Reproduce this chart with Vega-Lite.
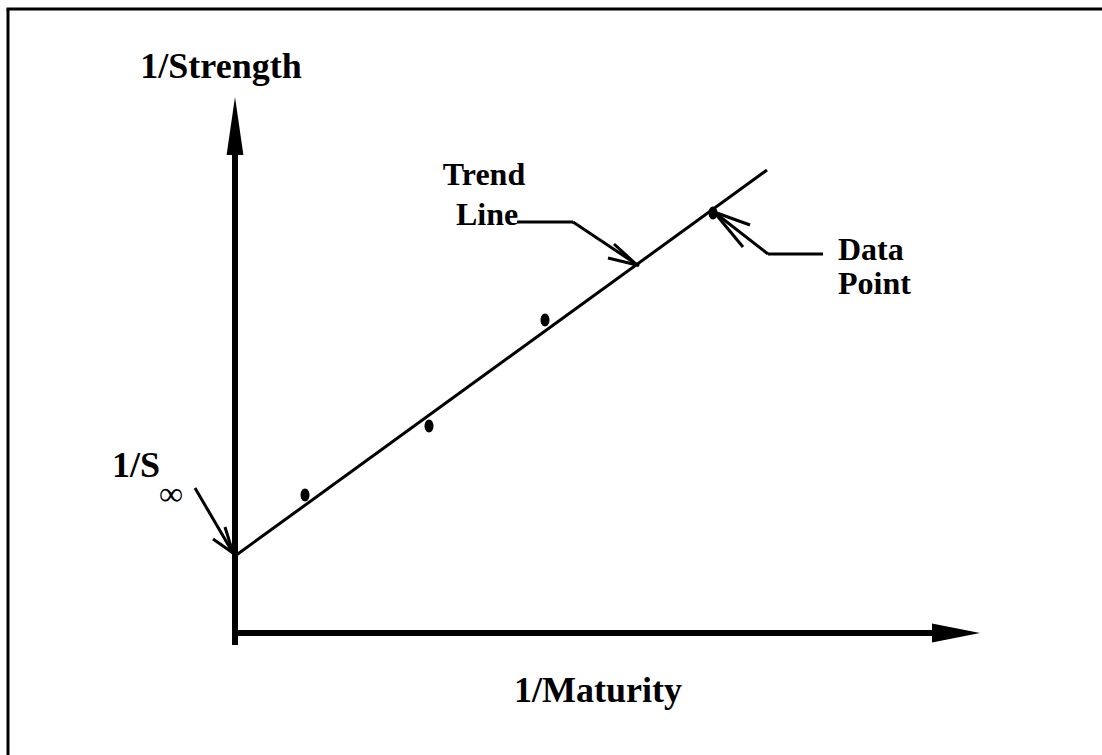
{
  "$schema": "https://vega.github.io/schema/vega-lite/v6.json",
  "width": 1102,
  "height": 755,
  "padding": 0,
  "autosize": "none",
  "background": "white",
  "config": {"view": {"stroke": null}},
  "datasets": {
    "segs": [
      {"x": 0, "y": -0.12, "x2": 0, "y2": 4.85, "g": "axis"},
      {"x": -0.03, "y": 0, "x2": 7.0, "y2": 0, "g": "axis"},
      {"x": -2.27, "y": 6.24, "x2": -2.27, "y2": -1.3, "g": "thin"},
      {"x": -2.285, "y": 6.24, "x2": 8.8, "y2": 6.24, "g": "thin"},
      {"x": 0, "y": 0.77, "x2": 5.32, "y2": 4.63, "g": "thin"},
      {"x": -0.40, "y": 1.45, "x2": -0.02, "y2": 0.80, "g": "thin"},
      {"x": -0.02, "y": 0.80, "x2": -0.22, "y2": 0.94, "g": "thin"},
      {"x": -0.02, "y": 0.80, "x2": -0.10, "y2": 1.06, "g": "thin"},
      {"x": 2.82, "y": 4.11, "x2": 3.38, "y2": 4.11, "g": "thin"},
      {"x": 3.38, "y": 4.11, "x2": 4.04, "y2": 3.67, "g": "thin"},
      {"x": 4.02, "y": 3.68, "x2": 3.79, "y2": 3.89, "g": "thin"},
      {"x": 4.02, "y": 3.68, "x2": 3.73, "y2": 3.75, "g": "thin"},
      {"x": 4.79, "y": 4.21, "x2": 5.33, "y2": 3.79, "g": "thin"},
      {"x": 5.33, "y": 3.79, "x2": 5.88, "y2": 3.79, "g": "thin"},
      {"x": 4.79, "y": 4.21, "x2": 5.15, "y2": 4.08, "g": "thin"},
      {"x": 4.79, "y": 4.21, "x2": 5.08, "y2": 3.86, "g": "thin"}
    ],
    "points": [
      {"m": 0.70, "s": 1.38},
      {"m": 1.94, "s": 2.07},
      {"m": 3.10, "s": 3.13},
      {"m": 4.78, "s": 4.20}
    ],
    "heads": [
      {"x": 0, "y": 5.36, "dir": "up"},
      {"x": 7.45, "y": 0, "dir": "right"}
    ],
    "labels": [
      {"x": -0.14, "y": 5.55, "t": "1/Strength", "k": "title"},
      {"x": 3.63, "y": -0.69, "t": "1/Maturity", "k": "title"},
      {"x": -1.23, "y": 1.56, "t": "1/S", "k": "titleleft"},
      {"x": 2.49, "y": 4.48, "t": "Trend", "k": "note"},
      {"x": 2.52, "y": 4.08, "t": "Line", "k": "note"},
      {"x": 6.03, "y": 3.73, "t": "Data", "k": "noteleft"},
      {"x": 6.03, "y": 3.39, "t": "Point", "k": "noteleft"},
      {"x": -0.64, "y": 1.38, "t": "∞", "k": "inf"}
    ]
  },
  "layer": [
    {
      "data": {"name": "segs"},
      "transform": [{"filter": "datum.g === 'thin'"}],
      "mark": {"type": "rule", "color": "black", "strokeWidth": 3},
      "encoding": {
        "x": {"field": "x", "type": "quantitative", "scale": {"domain": [-2.35, 8.67], "nice": false, "zero": false}, "axis": null},
        "y": {"field": "y", "type": "quantitative", "scale": {"domain": [-1.22, 6.33], "nice": false, "zero": false}, "axis": null},
        "x2": {"field": "x2"},
        "y2": {"field": "y2"}
      }
    },
    {
      "data": {"name": "segs"},
      "transform": [{"filter": "datum.g === 'axis'"}],
      "mark": {"type": "rule", "color": "black", "strokeWidth": 6},
      "encoding": {
        "x": {"field": "x", "type": "quantitative"},
        "y": {"field": "y", "type": "quantitative"},
        "x2": {"field": "x2"},
        "y2": {"field": "y2"}
      }
    },
    {
      "data": {"name": "heads"},
      "transform": [{"filter": "datum.dir === 'up'"}],
      "mark": {"type": "point", "filled": true, "color": "black", "opacity": 1, "shape": "M0,0 L0.29,2 L-0.29,2 Z", "size": 3364},
      "encoding": {
        "x": {"field": "x", "type": "quantitative"},
        "y": {"field": "y", "type": "quantitative"}
      }
    },
    {
      "data": {"name": "heads"},
      "transform": [{"filter": "datum.dir === 'right'"}],
      "mark": {"type": "point", "filled": true, "color": "black", "opacity": 1, "shape": "M0,0 L-2,-0.4 L-2,0.4 Z", "size": 2304},
      "encoding": {
        "x": {"field": "x", "type": "quantitative"},
        "y": {"field": "y", "type": "quantitative"}
      }
    },
    {
      "data": {"name": "points"},
      "mark": {"type": "point", "filled": true, "color": "black", "opacity": 1, "shape": "M-0.69,0 A0.69,1 0 1,0 0.69,0 A0.69,1 0 1,0 -0.69,0 Z", "size": 169},
      "encoding": {
        "x": {"field": "m", "type": "quantitative"},
        "y": {"field": "s", "type": "quantitative"}
      }
    },
    {
      "data": {"name": "labels"},
      "transform": [{"filter": "datum.k === 'title'"}],
      "mark": {"type": "text", "font": "Liberation Serif", "fontWeight": "bold", "fontSize": 36, "baseline": "alphabetic", "align": "center", "color": "black"},
      "encoding": {
        "x": {"field": "x", "type": "quantitative"},
        "y": {"field": "y", "type": "quantitative"},
        "text": {"field": "t"}
      }
    },
    {
      "data": {"name": "labels"},
      "transform": [{"filter": "datum.k === 'titleleft'"}],
      "mark": {"type": "text", "font": "Liberation Serif", "fontWeight": "bold", "fontSize": 36, "baseline": "alphabetic", "align": "left", "color": "black"},
      "encoding": {
        "x": {"field": "x", "type": "quantitative"},
        "y": {"field": "y", "type": "quantitative"},
        "text": {"field": "t"}
      }
    },
    {
      "data": {"name": "labels"},
      "transform": [{"filter": "datum.k === 'note'"}],
      "mark": {"type": "text", "font": "Liberation Serif", "fontWeight": "bold", "fontSize": 32, "baseline": "alphabetic", "align": "center", "color": "black"},
      "encoding": {
        "x": {"field": "x", "type": "quantitative"},
        "y": {"field": "y", "type": "quantitative"},
        "text": {"field": "t"}
      }
    },
    {
      "data": {"name": "labels"},
      "transform": [{"filter": "datum.k === 'noteleft'"}],
      "mark": {"type": "text", "font": "Liberation Serif", "fontWeight": "bold", "fontSize": 32, "baseline": "alphabetic", "align": "left", "color": "black"},
      "encoding": {
        "x": {"field": "x", "type": "quantitative"},
        "y": {"field": "y", "type": "quantitative"},
        "text": {"field": "t"}
      }
    },
    {
      "data": {"name": "labels"},
      "transform": [{"filter": "datum.k === 'inf'"}],
      "mark": {"type": "text", "font": "Liberation Serif", "fontSize": 34, "baseline": "middle", "align": "center", "color": "black"},
      "encoding": {
        "x": {"field": "x", "type": "quantitative"},
        "y": {"field": "y", "type": "quantitative"},
        "text": {"field": "t"}
      }
    }
  ]
}
